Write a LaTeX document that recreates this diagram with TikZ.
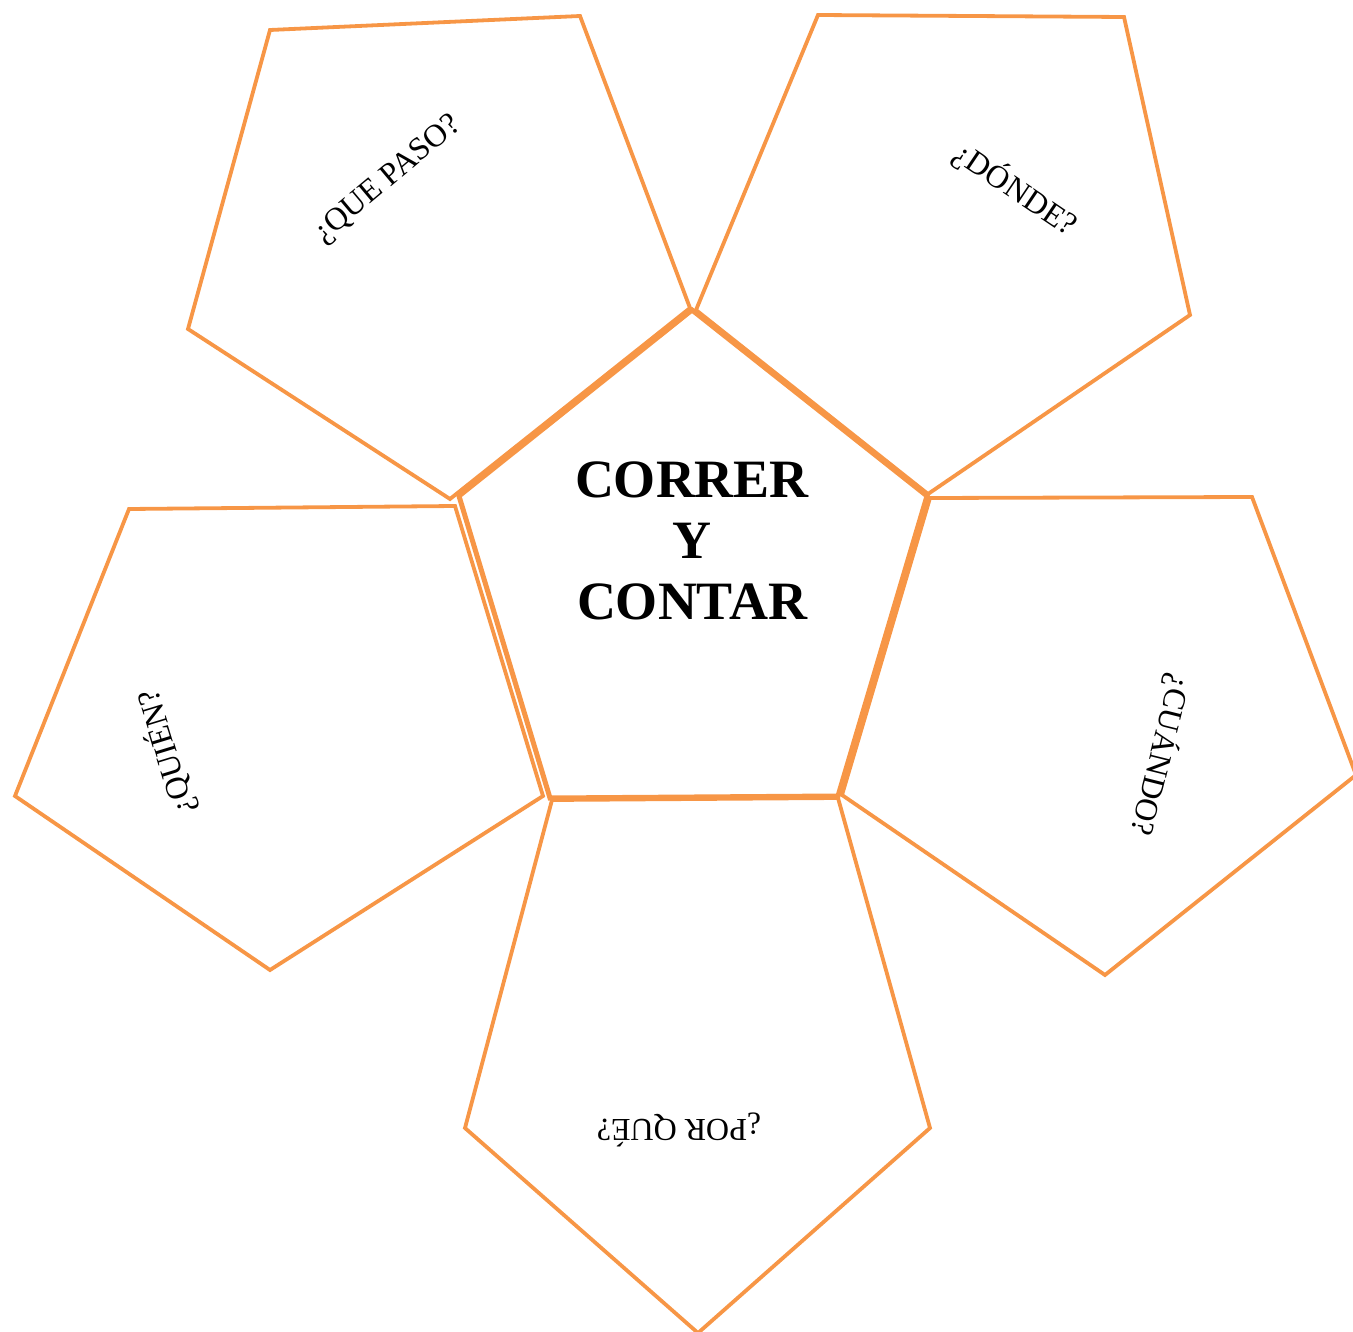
\documentclass[tikz,border=0pt]{standalone}
\usepackage{fontspec}
\setmainfont{Liberation Serif}
\definecolor{penorange}{HTML}{F79646}
\begin{document}
\begin{tikzpicture}[x=1pt,y=-1pt,
  pent/.style={draw=penorange,line width=3.8pt,line join=miter},
  centerpent/.style={draw=penorange,line width=5pt,line join=miter},
  lbl/.style={font=\fontsize{32}{36}\selectfont,inner sep=0pt},
  title/.style={font=\fontsize{54}{61}\selectfont\bfseries,align=center,inner sep=0pt}]
\useasboundingbox (0,0) rectangle (1353,1332);
\begin{scope}
\clip (0,0) rectangle (1353,1332);
% outer pentagons
\draw[pent] (270,30) -- (580,16) -- (690,308) -- (450,499) -- (188,329) -- cycle;
\draw[pent] (818,15) -- (1124,17) -- (1190,315) -- (928,494) -- (696,310) -- cycle;
\draw[pent] (129,509) -- (455,506) -- (543,796) -- (270,970) -- (15,796) -- cycle;
\draw[pent] (930,498) -- (1252,497) -- (1356,775) -- (1105,975) -- (842,795) -- cycle;
\draw[pent] (552,800) -- (838,798) -- (930,1128) -- (698,1333) -- (465,1128) -- cycle;
% central pentagon
\draw[centerpent] (692,310) -- (927,496) -- (838,796) -- (550,798) -- (459,496) -- cycle;
\end{scope}
% labels
\node[title] (main) at (692,541) {CORRER\\Y\\CONTAR};
\node[lbl,rotate=40] (quepaso) at (388,180) {¿QUE PASO?};
\node[lbl,rotate=-34] (donde) at (1016,189) {¿DÓNDE?};
\node[lbl,rotate=107] (quien) at (166,752) {¿QUIÉN?};
\node[lbl,rotate=-104] (cuando) at (1161,755) {¿CUÁNDO?};
\node[lbl,rotate=180] (porque) at (679,1130) {¿POR QUÉ?};
\end{tikzpicture}
\end{document}
